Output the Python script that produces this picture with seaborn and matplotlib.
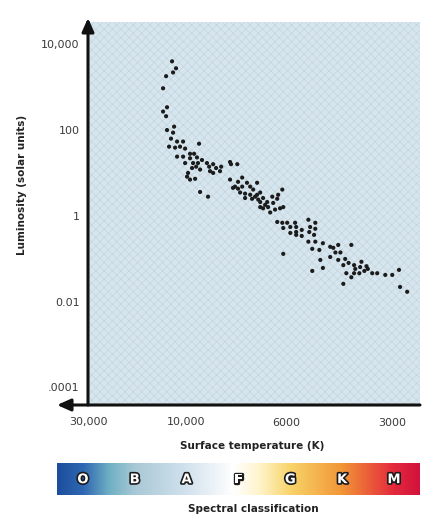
import numpy as np
import matplotlib
matplotlib.use("Agg")
import matplotlib.pyplot as plt
import matplotlib.patheffects as pe
from matplotlib.colors import LinearSegmentedColormap
from matplotlib.patches import Rectangle
from matplotlib.ticker import NullLocator
import seaborn as sns

# Hot, bright stars near the top of the main sequence
upper_temp_k = [
    11700, 11190, 11570, 12510, 12940, 12380, 12940, 12510, 11440, 12380,
    11570, 11840, 11060, 10340, 9360, 12100, 11310, 10700, 10110, 9800,
    9600, 11060, 10340, 9800, 9460, 9220, 10110, 9650, 9410, 8990,
    8890, 8710, 9500, 9700, 9310, 8850, 9950, 9800, 9310, 8940,
    8580, 8360, 8410, 8710, 9900, 9550, 7990, 7700, 7950,
]
upper_lum = [
    4000, 2750, 2200, 1800, 940, 340, 270, 210, 120, 100,
    87, 63, 54, 54, 48, 41, 39, 41, 37, 28,
    28, 24, 24, 22, 23, 20, 17, 17, 17, 17,
    14, 16, 14, 13, 12, 11, 8.2, 7.0, 3.6, 2.8,
    13, 14, 11, 10, 10, 7.3, 18, 16, 16,
]

# Sun-like stars in the middle of the band
middle_temp_k = [
    7990, 7670, 7510, 7330, 6960, 7790, 7510, 7870, 7670, 7210,
    7100, 7590, 7400, 7210, 7030, 6850, 6750, 6610, 6850, 6680,
    6960, 7400, 7140, 6920, 6440, 6120, 6250, 6280, 6850, 6580,
    6350, 6190, 6750, 6510, 6410, 6090,
]
middle_lum = [
    7.0, 6.2, 7.8, 5.9, 5.9, 4.8, 4.8, 4.5, 4.3, 4.8,
    4.1, 3.5, 3.3, 3.1, 2.8, 3.5, 2.6, 2.1, 2.1, 1.8,
    3.1, 2.6, 2.5, 2.4, 2.8, 4.1, 3.1, 2.5, 1.6, 1.6,
    1.4, 1.5, 1.5, 1.2, 2.0, 1.6,
]

# Cool, faint stars at the lower end
lower_temp_k = [
    6280, 6120, 5960, 6090, 5840, 5660, 5190, 4960, 5130, 5620,
    5420, 5620, 5160, 4960, 5840, 5620, 5420, 5000, 5190, 4960,
    4720, 5060, 4830, 4410, 4270, 4350, 4210, 4500, 4270, 4080,
    4800, 4720, 5060, 6090, 4130, 4050, 4500, 3920, 3990, 3850,
    3670, 3820, 3700, 3550, 3520, 3850, 3720, 3600, 3420, 3310,
    3140, 3000, 2870, 3920, 4130, 2850, 2720,
]
lower_lum = [
    0.72, 0.69, 0.69, 0.52, 0.55, 0.69, 0.81, 0.69, 0.55, 0.55,
    0.47, 0.42, 0.42, 0.50, 0.40, 0.36, 0.34, 0.36, 0.25, 0.25,
    0.23, 0.17, 0.16, 0.18, 0.21, 0.14, 0.14, 0.11, 0.094, 0.099,
    0.094, 0.061, 0.052, 0.13, 0.071, 0.046, 0.19, 0.21, 0.080, 0.071,
    0.085, 0.058, 0.064, 0.067, 0.058, 0.046, 0.046, 0.052, 0.046, 0.046,
    0.042, 0.042, 0.055, 0.037, 0.026, 0.022, 0.017,
]

x_ticks = [30000, 10000, 6000, 3000]
x_tick_labels = ["30,000", "10,000", "6000", "3000"]
y_ticks = [1e4, 1e2, 1, 1e-2, 1e-4]
y_tick_labels = ["10,000", "100", "1", "0.01", ".0001"]
spectral_classes = ["O", "B", "A", "F", "G", "K", "M"]

temperature_k = upper_temp_k + middle_temp_k + lower_temp_k
luminosity = upper_lum + middle_lum + lower_lum

sns.set_theme(style="white")
plt.rcParams["font.family"] = ["DejaVu Sans"]
plt.rcParams["hatch.linewidth"] = 0.5

# Temperature axis: log spacing that stretches differently between the
# labelled temperatures; increasing in T, shown hot-to-cool via xlim.
_anchor_log = np.array([3.3, np.log10(3000), np.log10(6000), 4.0,
                        np.log10(30000), 4.8])
_anchor_pos = np.array([-366.0, -304.0, -198.0, -98.0, 0.0, 66.0])


def temp_forward(t):
    t = np.clip(np.asarray(t, dtype=float), 1e-6, None)
    return np.interp(np.log10(t), _anchor_log, _anchor_pos)


def temp_inverse(u):
    u = np.asarray(u, dtype=float)
    return 10.0 ** np.interp(u, _anchor_pos, _anchor_log)


W, H = 425, 519
fig = plt.figure(figsize=(W / 100, H / 100), dpi=100)
fig.patch.set_facecolor("white")

ax = fig.add_axes([88 / W, 114 / H, 332 / W, 383 / H])
ax.set_facecolor("#d7e6ee")
ax.add_patch(Rectangle((0, 0), 1, 1, transform=ax.transAxes,
                       facecolor="none", edgecolor="#c3d5df",
                       hatch="xxxx", linewidth=0, zorder=0))

ax.set_xscale("function", functions=(temp_forward, temp_inverse))
ax.set_yscale("log")

sns.scatterplot(x=temperature_k, y=luminosity, ax=ax, s=9,
                color="#1c1c1c", edgecolor="none", linewidth=0, zorder=3)

ax.set_xlim(30000, 2500)
ax.set_ylim(3.9e-5, 3.3e4)

ax.set_xticks(x_ticks, x_tick_labels)
ax.set_yticks(y_ticks, y_tick_labels)
ax.xaxis.set_minor_locator(NullLocator())
ax.yaxis.set_minor_locator(NullLocator())
ax.tick_params(direction="in", length=10, width=2, color="#111111",
               labelsize=8, labelcolor="#3a3a3a")
ax.tick_params(axis="y", pad=6)
ax.tick_params(axis="x", pad=9)
ax.set_xlabel("")
ax.set_ylabel("")
for s in ax.spines.values():
    s.set_visible(False)

arrow_style = dict(arrowstyle="-|>,head_length=0.9,head_width=0.4",
                   lw=2.2, color="#111111", shrinkA=0, shrinkB=0,
                   mutation_scale=9)
ax.annotate("", xy=(0, 1 + 4 / 383), xytext=(0, 0),
            xycoords="axes fraction", textcoords="axes fraction",
            arrowprops=arrow_style, annotation_clip=False)
ax.annotate("", xy=(-31 / 332, 0), xytext=(1, 0),
            xycoords="axes fraction", textcoords="axes fraction",
            arrowprops=arrow_style, annotation_clip=False)

fig.text(22 / W, 1 - 185 / H, "Luminosity (solar units)", rotation=90,
         ha="center", va="center", fontsize=7.5, fontweight="bold",
         color="#222222")
fig.text(252 / W, 1 - 446 / H, "Surface temperature (K)", ha="center",
         va="center", fontsize=7.5, fontweight="bold", color="#222222")
fig.text(253 / W, 1 - 509 / H, "Spectral classification", ha="center",
         va="center", fontsize=7.5, fontweight="bold", color="#222222")

# Spectral-class colour strip
bax = fig.add_axes([57 / W, (H - 495) / H, 363 / W, 32 / H])
stops = [
    (0.0, "#1d4e9e"), (0.5, "#2f68b2"), (1.0, "#6fb0c4"), (1.5, "#a9c8d6"),
    (2.5, "#d2e2ee"), (3.4, "#ffffff"), (3.9, "#fff4cc"), (4.5, "#f8d46a"),
    (5.5, "#f29636"), (6.5, "#e42a3c"), (7.0, "#d3123c"),
]
strip_cmap = LinearSegmentedColormap.from_list(
    "spectral_strip", [(p / 7.0, c) for p, c in stops])
bax.imshow(np.linspace(0, 7, 700)[None, :], aspect="auto", cmap=strip_cmap,
           extent=(0, 7, 0, 1), vmin=0, vmax=7)
bax.set_xlim(0, 7)
bax.set_ylim(0, 1)
bax.axis("off")
for i, label in enumerate(spectral_classes):
    bax.text(i + 0.5, 0.48, label, ha="center", va="center", fontsize=9.5,
             fontweight="bold", color="white",
             path_effects=[pe.withStroke(linewidth=2.4, foreground="#1c1c1c")])

fig.savefig("out.png", dpi=100)
